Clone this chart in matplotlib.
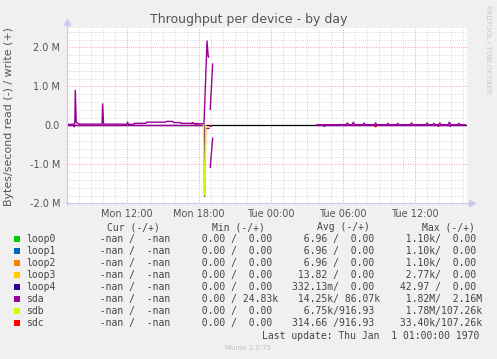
import numpy as np
import matplotlib
matplotlib.use('Agg')
from matplotlib import pyplot as plt
from matplotlib.lines import Line2D

nan = np.nan

# hours since Mon 00:00, values in millions of bytes/second
sda_write_h = [7.05, 7.3, 7.55, 7.68, 7.72, 7.8, 8.0, 8.5, 9.0, 9.5, 9.95, 10.0, 10.08, 10.5, 11.0, 11.5,
               12.0, 12.08, 12.15, 12.6, 12.64, 13.0, 13.6, 13.65, 14.5, 15.25, 15.3, 15.85, 15.9, 16.5,
               16.55, 17.5, 18.0, 18.45, 18.7, 18.8, 18.85, 18.9,
               18.97, 19.17, 19.2,
               23.95, 24.05, 24.1,
               27.88, 28.5, 29.5, 30.3, 30.4, 30.5, 30.8, 30.9, 31.0, 31.7, 31.8, 31.9, 32.65, 32.75,
               32.85, 33.7, 33.78, 33.85, 34.5, 34.6, 34.7, 35.65, 35.75, 35.85, 36.95, 37.05, 37.15,
               37.5, 37.6, 37.7, 38.0, 38.1, 38.2, 38.8, 38.9, 39.0, 39.6, 39.7, 39.8, 40.2]
sda_write = [0.03, 0.02, 0.03, 0.03, 0.90, 0.08, 0.03, 0.03, 0.03, 0.03, 0.03, 0.55, 0.03, 0.03, 0.03, 0.03,
             0.025, 0.08, 0.025, 0.025, 0.05, 0.05, 0.05, 0.08, 0.08, 0.08, 0.10, 0.10, 0.07, 0.07,
             0.05, 0.05, 0.04, 0.04, 2.16, 1.76, 1.75, nan,
             0.41, 1.57, nan,
             nan, 0.05, nan,
             0.016, 0.016, 0.016, 0.016, 0.06, 0.016, 0.016, 0.08, 0.016, 0.016, 0.06, 0.016, 0.016, 0.06,
             0.016, 0.016, 0.05, 0.016, 0.016, 0.05, 0.016, 0.016, 0.06, 0.016, 0.016, 0.06, 0.016,
             0.016, 0.05, 0.016, 0.016, 0.06, 0.016, 0.016, 0.08, 0.016, 0.016, 0.05, 0.016, 0.016]

sda_read_h = [7.05, 7.55, 7.62, 7.7, 12.0, 18.45, 18.5, 18.58, 18.85, 18.9,
              18.97, 19.17, 19.2,
              27.88, 28.4, 28.5, 28.6, 37.9, 37.97, 38.05, 38.9, 38.97, 39.05, 40.2]
sda_read = [-0.005, -0.005, -0.04, -0.005, -0.005, -0.005, -1.82, -0.08, -0.08, nan,
            -1.08, -0.33, nan,
            -0.005, -0.005, -0.03, -0.005, -0.005, -0.03, -0.005, -0.005, -0.03, -0.005, -0.005]

sdb_read_h = [18.4, 18.47, 18.53, 18.6]
sdb_read = [0.0, -1.79, -1.79, 0.0]

sdc_h = [17.4, 17.5, 17.6, 17.8, 17.87, 17.95, nan, 18.95, 19.0, 19.05, nan, 32.7, 32.75, 32.8]
sdc = [0.04, 0.07, 0.04, 0.03, 0.05, 0.03, nan, -0.02, -0.03, -0.02, nan, -0.03, -0.035, -0.03]

x_ticks = [12, 18, 24, 30, 36]
x_labels = ['Mon 12:00', 'Mon 18:00', 'Tue 00:00', 'Tue 06:00', 'Tue 12:00']
y_ticks = [-2, -1, 0, 1, 2]
y_labels = ['-2.0 M', '-1.0 M', '0.0', '1.0 M', '2.0 M']

names = ['loop0', 'loop1', 'loop2', 'loop3', 'loop4', 'sda', 'sdb', 'sdc']
colors = ['#00cc00', '#0066b3', '#ff8000', '#ffcc00', '#330099', '#990099', '#ccff00', '#ff0000']
cur_col = ['  -nan /  -nan '] * 8
min_col = ['  0.00 /  0.00 '] * 5 + ['  0.00 / 24.83k', '  0.00 /  0.00 ', '  0.00 /  0.00 ']
avg_col = ['  6.96 /  0.00 ', '  6.96 /  0.00 ', '  6.96 /  0.00 ', ' 13.82 /  0.00 ', '332.13m/  0.00 ',
           ' 14.25k/ 86.07k', '  6.75k/916.93 ', '314.66 /916.93 ']
max_col = ['  1.10k/  0.00 ', '  1.10k/  0.00 ', '  1.10k/  0.00 ', '  2.77k/  0.00 ', ' 42.97 /  0.00 ',
           '  1.82M/  2.16M', '  1.78M/107.26k', ' 33.40k/107.26k']

W, H = 497, 359
fig = plt.figure(figsize=(W / 100, H / 100), dpi=100, facecolor='#f0f0f0')
ax = fig.add_axes([67 / W, 1 - 203.3 / H, 400 / W, 175.5 / H])
ax.set_facecolor('white')
ax.set_xlim(7.03, 40.37)
ax.set_ylim(-2.0, 2.5)

# grid
ax.set_xticks(x_ticks)
ax.set_xticks(np.arange(8, 41, 1), minor=True)
ax.set_yticks(y_ticks)
ax.set_yticks(np.arange(-2.0, 2.51, 0.2), minor=True)
ax.grid(which='minor', color='#d0d0d0', linestyle=(0, (1, 1.5)), linewidth=0.6)
ax.grid(which='major', color='#f0a0a0', linestyle=(0, (1, 1.5)), linewidth=0.7)
ax.set_axisbelow(True)

ax.set_xticklabels(x_labels)
ax.set_yticklabels(y_labels)
ax.tick_params(which='both', length=0, colors='#555555', labelsize=7)
ax.tick_params(axis='y', pad=5)
ax.tick_params(axis='x', pad=4)

for s in ['top', 'right', 'left', 'bottom']:
    ax.spines[s].set_visible(False)

ax.axhline(0, color='black', linewidth=0.9, zorder=2)
ax.plot(sdc_h, sdc, color=colors[7], linewidth=1.0, zorder=3)
ax.plot(sda_read_h, sda_read, color=colors[5], linewidth=1.0, zorder=3)
ax.plot(sda_write_h, sda_write, color=colors[5], linewidth=1.0, zorder=3)
ax.plot(sdb_read_h, sdb_read, color=colors[6], linewidth=1.0, zorder=4)

# axis lines with arrows
ax_col = '#c8c8f0'
fig.add_artist(Line2D([67 / W, 67 / W], [1 - 204 / H, 1 - 22 / H], color=ax_col, lw=0.8))
fig.add_artist(Line2D([66 / W, 472 / W], [1 - 203.3 / H, 1 - 203.3 / H], color=ax_col, lw=0.8))
fig.add_artist(Line2D([67 / W], [1 - 22 / H], marker='^', markersize=4, color=ax_col, lw=0))
fig.add_artist(Line2D([472 / W], [1 - 203.3 / H], marker='>', markersize=4, color=ax_col, lw=0))


def px(x, y):
    return x / W, 1 - y / H


fig.text(*px(248.5, 19), 'Throughput per device - by day', ha='center', va='center',
         fontsize=9, color='#555555')
fig.text(*px(9.5, 116.5), 'Bytes/second read (-) / write (+)', ha='center', va='center',
         rotation=90, fontsize=7.9, color='#555555')
fig.text(*px(488, 5), 'RRDTOOL / TOBI OETIKER', ha='center', va='top', rotation=270,
         fontsize=5, color='#c8c8c8')

mono = 'DejaVu Sans Mono'
tc = '#444444'
fig.text(*px(107.3, 227.3), 'Cur (-/+)', family=mono, fontsize=7, color=tc, va='center')
fig.text(*px(212.3, 227.3), 'Min (-/+)', family=mono, fontsize=7, color=tc, va='center')
fig.text(*px(317.3, 227.3), 'Avg (-/+)', family=mono, fontsize=7, color=tc, va='center')
fig.text(*px(421.7, 227.3), 'Max (-/+)', family=mono, fontsize=7, color=tc, va='center')

for i, name in enumerate(names):
    y = 239.3 + 12 * i
    fig.patches.append(plt.Rectangle(px(14, y + 3), 6 / W, 6 / H, transform=fig.transFigure,
                                     facecolor=colors[i], edgecolor='none'))
    fig.text(*px(26.3, y), name, family=mono, fontsize=7, color=tc, va='center')
    fig.text(*px(88.2, y), cur_col[i], family=mono, fontsize=7, color=tc, va='center')
    fig.text(*px(189.9, y), min_col[i], family=mono, fontsize=7, color=tc, va='center')
    fig.text(*px(291.7, y), avg_col[i], family=mono, fontsize=7, color=tc, va='center')
    fig.text(*px(394.5, y), max_col[i], family=mono, fontsize=7, color=tc, va='center')

fig.text(*px(261.7, 335.7), 'Last update: Thu Jan  1 01:00:00 1970', family=mono, fontsize=7,
         color=tc, va='center')
fig.text(*px(247.7, 348.3), 'Munin 2.0.75', ha='center', va='center', fontsize=5, color='#c0c0c0')

fig.savefig('out.png', dpi=100, facecolor=fig.get_facecolor())
